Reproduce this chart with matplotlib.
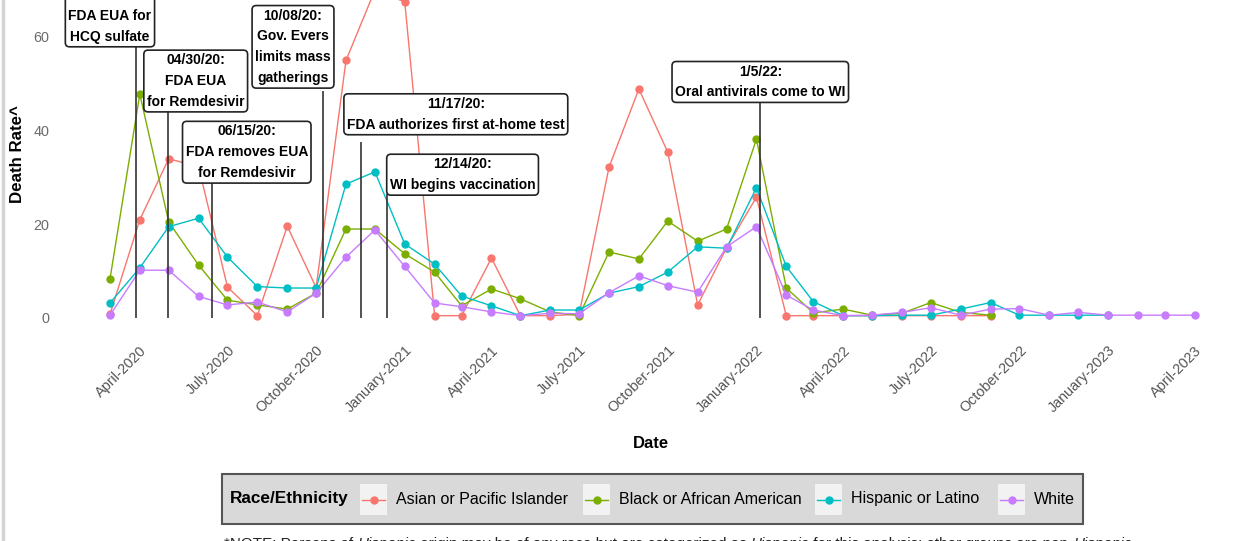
import numpy as np
import pandas as pd
import matplotlib
matplotlib.use("Agg")
import matplotlib.pyplot as plt
import matplotlib.dates as mdates
from matplotlib import font_manager
from matplotlib.patches import Rectangle
from matplotlib.lines import Line2D

# monthly death rates by race/ethnicity, Mar 2020 - Apr 2023
months = pd.date_range("2020-03-01", "2023-04-01", freq="MS")
nan = np.nan

asian = [0.8, 21.0, 34.0, 32.3, 6.6, 0.5, 19.6, 6.5, 55.0, 70.0, 67.5, 0.5, 0.5, 12.8,
         0.5, 0.5, 0.8, 32.2, 48.9, 35.4, 2.8, 15.0, 25.8, 0.5, 0.5, 0.5, 0.5, 0.5,
         0.5, 0.5, 0.5, nan, nan, nan, nan, nan, nan, nan]
black = [8.3, 47.8, 20.5, 11.3, 3.8, 2.8, 1.9, 5.3, 19.0, 19.0, 13.7, 9.8, 2.6, 6.2,
         4.1, 1.3, 0.5, 14.1, 12.6, 20.7, 16.4, 19.0, 38.2, 6.4, 1.1, 1.9, 0.6, 1.0,
         3.3, 1.2, 0.6, nan, nan, nan, nan, nan, nan, nan]
hispanic = [3.2, 10.7, 19.5, 21.3, 13.0, 6.7, 6.4, 6.4, 28.6, 31.2, 15.8, 11.5, 4.7, 2.6,
            0.5, 1.7, 1.7, 5.3, 6.7, 9.8, 15.2, 14.9, 27.8, 11.0, 3.5, 0.5, 0.5, 0.6,
            0.6, 1.9, 3.3, 0.6, 0.6, 0.6, 0.6, nan, nan, nan]
white = [0.6, 10.2, 10.2, 4.6, 2.8, 3.4, 1.3, 5.3, 13.0, 18.8, 11.0, 3.2, 2.4, 1.3,
         0.5, 1.0, 0.9, 5.4, 9.0, 6.9, 5.5, 15.2, 19.5, 4.9, 1.7, 0.5, 0.6, 1.2,
         2.2, 0.6, 1.9, 2.0, 0.6, 1.2, 0.6, 0.6, 0.6, 0.6]

groups = ["Asian or Pacific Islander", "Black or African American",
          "Hispanic or Latino", "White"]
colors = ["#F8766D", "#7CAE00", "#00BFC4", "#C77CFF"]

event_dates = ["2020-03-28", "2020-04-30", "2020-06-15", "2020-10-08",
               "2020-11-17", "2020-12-14", "2022-01-05"]
event_labels = ["03/28/20:\nFDA EUA for\nHCQ sulfate",
                "04/30/20:\nFDA EUA\nfor Remdesivir",
                "06/15/20:\nFDA removes EUA\nfor Remdesivir",
                "10/08/20:\nGov. Evers\nlimits mass\ngatherings",
                "11/17/20:\nFDA authorizes first at-home test",
                "12/14/20:\nWI begins vaccination",
                "1/5/22:\nOral antivirals come to WI"]
# where each line stops and where its label box sits
line_tops = [58.1, 44.0, 28.8, 48.5, 37.6, 26.5, 46.1]
box_pos = [("2020-03-01", 64.5), ("2020-05-29", 50.6), ("2020-07-21", 35.4),
           ("2020-09-07", 57.9), ("2021-02-23", 43.5), ("2021-03-02", 30.6),
           ("2022-01-05", 50.4)]

note_parts = [("*NOTE: Persons of ", "normal"), ("Hispanic", "italic"),
              (" origin may be of any race but are categorized as ", "normal"),
              ("Hispanic", "italic"),
              (" for this analysis; other groups are non-", "normal"),
              ("Hispanic", "italic"), (".", "normal")]

names = {f.name for f in font_manager.fontManager.ttflist}
if "Liberation Sans Narrow" in names:
    fam, k = "Liberation Sans Narrow", 1 / 0.82
else:
    fam, k = "Liberation Sans", 1.0
plt.rcParams["font.family"] = [fam, "DejaVu Sans"]

W, H = 1242, 541
fig = plt.figure(figsize=(W / 100, H / 100), dpi=100)
ax = fig.add_axes([56 / W, (H - 335) / H, (W - 56) / W, 335 / H])

x0 = pd.Timestamp("2020-03-01")
ax.set_xlim(mdates.date2num(x0 - pd.Timedelta(days=56)),
            mdates.date2num(x0 + pd.Timedelta(days=1175)))
ax.set_ylim(-3.63, 67.9)

for vals, c in zip([asian, black, hispanic, white], colors):
    ax.plot(months, vals, color=c, lw=1.0, marker="o", ms=5, mec=c, zorder=2)

ax.vlines(pd.to_datetime(event_dates), 0, line_tops, color="#333333", lw=1.2, zorder=3)
for lab, (d, y) in zip(event_labels, box_pos):
    ax.text(pd.Timestamp(d), y, lab, ha="center", va="center", multialignment="center",
            fontsize=10 * k, fontweight="bold", linespacing=1.62, zorder=4,
            bbox=dict(boxstyle="round,pad=0.22,rounding_size=0.3", fc="white",
                      ec="#222222", lw=1.2))

for s in ax.spines.values():
    s.set_visible(False)
ax.set_yticks([0, 20, 40, 60])
ax.xaxis.set_major_locator(mdates.MonthLocator(bymonth=[1, 4, 7, 10]))
ax.xaxis.set_major_formatter(mdates.DateFormatter("%B-%Y"))
ax.tick_params(length=0, colors="#555555", labelsize=10.4 * k)
ax.tick_params(axis="y", colors="#6b6b6b", pad=5)
ax.tick_params(axis="x", pad=6)
for t in ax.get_xticklabels():
    t.set_rotation(45)
    t.set_ha("right")
    t.set_va("top")
    t.set_rotation_mode("anchor")

fig.text(651 / W, 1 - 444 / H, "Date", ha="center", va="center",
         fontsize=12 * k, fontweight="bold")
fig.text(18 / W, 1 - 154 / H, "Death Rate^", ha="center", va="center",
         rotation=90, fontsize=12.2 * k, fontweight="bold")

# legend and note drawn on a pixel-space overlay
ov = fig.add_axes([0, 0, 1, 1], zorder=5)
ov.set_xlim(0, W)
ov.set_ylim(H, 0)
ov.axis("off")
ov.add_line(Line2D([3, 3], [0, H], color="#d4d4d4", lw=2.5))
ov.add_patch(Rectangle((222, 474), 861, 50, fc="#d9d9d9", ec="#555555", lw=1.5))
ov.text(230, 499, "Race/Ethnicity", ha="left", va="center",
        fontsize=12.4 * k, fontweight="bold")
key_x = [360, 583, 815, 998]
for kx, c, g in zip(key_x, colors, groups):
    ov.add_patch(Rectangle((kx, 484), 27, 31, fc="#f2f2f2", ec="none"))
    ov.add_line(Line2D([kx + 2, kx + 25], [499.5, 499.5], color=c, lw=1.0))
    ov.plot([kx + 13.5], [499.5], "o", color=c, ms=5)
    ov.text(kx + 36, 499, g, ha="left", va="center", fontsize=11.5 * k)

# note, with the word Hispanic in italics, laid out piece by piece
r = fig.canvas.get_renderer()
pieces = [ov.text(0, 544, s, ha="left", va="center", fontsize=11 * k,
                  fontstyle=st, color="#222222") for s, st in note_parts]
widths = [p.get_window_extent(r).width for p in pieces]
x = 680 - sum(widths) / 2
for p, w in zip(pieces, widths):
    p.set_x(x)
    x += w

fig.savefig("out.png", dpi=100)
